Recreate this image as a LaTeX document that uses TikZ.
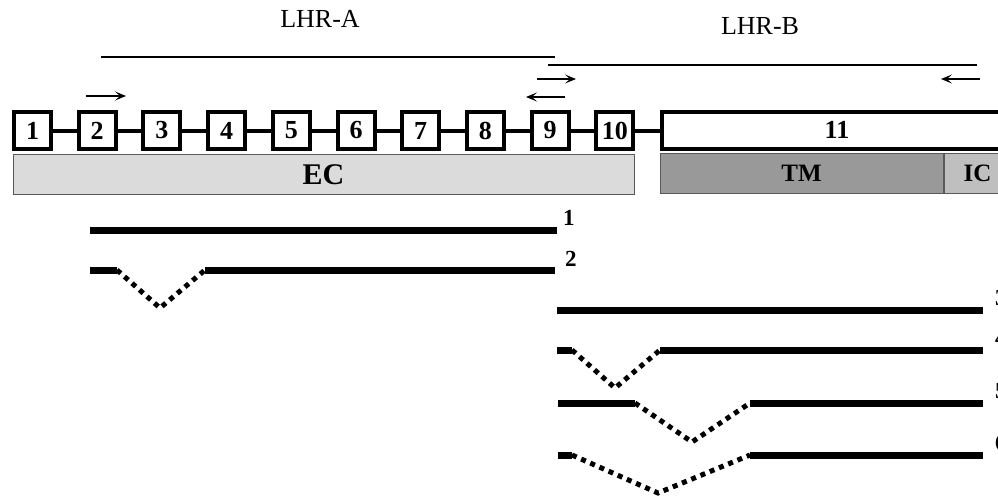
\documentclass[tikz,border=0pt]{standalone}
\usepackage{fontspec}
\setmainfont{Liberation Serif}
\usetikzlibrary{arrows.meta}
\begin{document}
\begin{tikzpicture}[x=1pt,y=-1pt,
  exon/.style={draw,line width=4pt,fill=white,minimum width=37pt,minimum height=37pt,inner sep=0pt,font=\fontsize{26}{26}\selectfont\bfseries},
  link/.style={line width=4pt},
  dom/.style={draw=black!65,line width=1pt,inner sep=0pt,minimum height=40pt},
  primer/.style={line width=2pt,-{Stealth[length=11pt,width=9pt,inset=5pt]}},
  region/.style={line width=1.8pt},
  tr/.style={line width=7pt},
  skip/.style={line width=5pt,dash pattern=on 5pt off 5pt},
  lbl/.style={font=\fontsize{26}{26}\selectfont},
  num/.style={font=\fontsize{23}{23}\selectfont\bfseries,anchor=west,inner sep=0pt}
]
\useasboundingbox (0,0) rectangle (998,496);
\clip (0,0) rectangle (998,496);

% LHR regions
\node[lbl] (lhra) at (320,19) {LHR-A};
\node[lbl] (lhrb) at (760,26) {LHR-B};
\coordinate (a1) at (101,57); \coordinate (a2) at (555,57);
\coordinate (b1) at (548,65); \coordinate (b2) at (977,65);
\draw[region] (a1) -- (a2);
\draw[region] (b1) -- (b2);

% primers
\coordinate (p1s) at (86,96);  \coordinate (p1e) at (126,96);
\coordinate (p2s) at (537,79); \coordinate (p2e) at (576,79);
\coordinate (p3s) at (565,97); \coordinate (p3e) at (526,97);
\coordinate (p4s) at (980,79); \coordinate (p4e) at (941,79);
\draw[primer] (p1s) -- (p1e);
\draw[primer] (p2s) -- (p2e);
\draw[primer] (p3s) -- (p3e);
\draw[primer] (p4s) -- (p4e);

% exons
\foreach \i/\x in {1/32.5,2/97.2,3/161.9,4/226.6,5/291.3,6/356,7/420.7,8/485.4,9/550.1,10/614.8}
  \node[exon] (e\i) at (\x,130.5) {\i};
\node[exon,minimum width=350pt,anchor=west] (e11) at (660,130) {11};
\foreach \i [evaluate=\i as \j using int(\i+1)] in {1,...,10}
  \draw[link] (e\i.east) -- (e\j.west |- e\i.east);

% domains
\node[dom,fill=black!14,minimum width=621pt,font=\fontsize{30}{30}\selectfont\bfseries] (ec) at (323.5,174.5) {EC};
\node[dom,fill=black!40,minimum width=283pt,font=\fontsize{25}{25}\selectfont\bfseries] (tm) at (801.5,173) {TM};
\node[dom,fill=black!25,minimum width=67pt,anchor=west,font=\fontsize{25}{25}\selectfont\bfseries] (ic) at (tm.east) {IC};

% transcripts
\draw[tr] (90,230) -- (557,230);
\node[num] (t1) at (563,218) {1};

\draw[tr] (90,270) -- (117,270);
\draw[skip] (117,270) -- (160,308) -- (205,270);
\draw[tr] (205,270) -- (555,270);
\node[num] (t2) at (565,259) {2};

\draw[tr] (557,310) -- (983,310);
\node[num] (t3) at (995,298) {3};

\draw[tr] (557,350) -- (572,350);
\draw[skip] (572,350) -- (615,388) -- (660,350);
\draw[tr] (660,350) -- (983,350);
\node[num] (t4) at (995,338) {4};

\draw[tr] (558,403) -- (635,403);
\draw[skip] (635,403) -- (692,442) -- (750,403);
\draw[tr] (750,403) -- (983,403);
\node[num] (t5) at (995,391) {5};

\draw[tr] (558,455) -- (572,455);
\draw[skip] (572,455) -- (658,493) -- (750,455);
\draw[tr] (750,455) -- (983,455);
\node[num] (t6) at (995,443) {6};
\end{tikzpicture}
\end{document}
